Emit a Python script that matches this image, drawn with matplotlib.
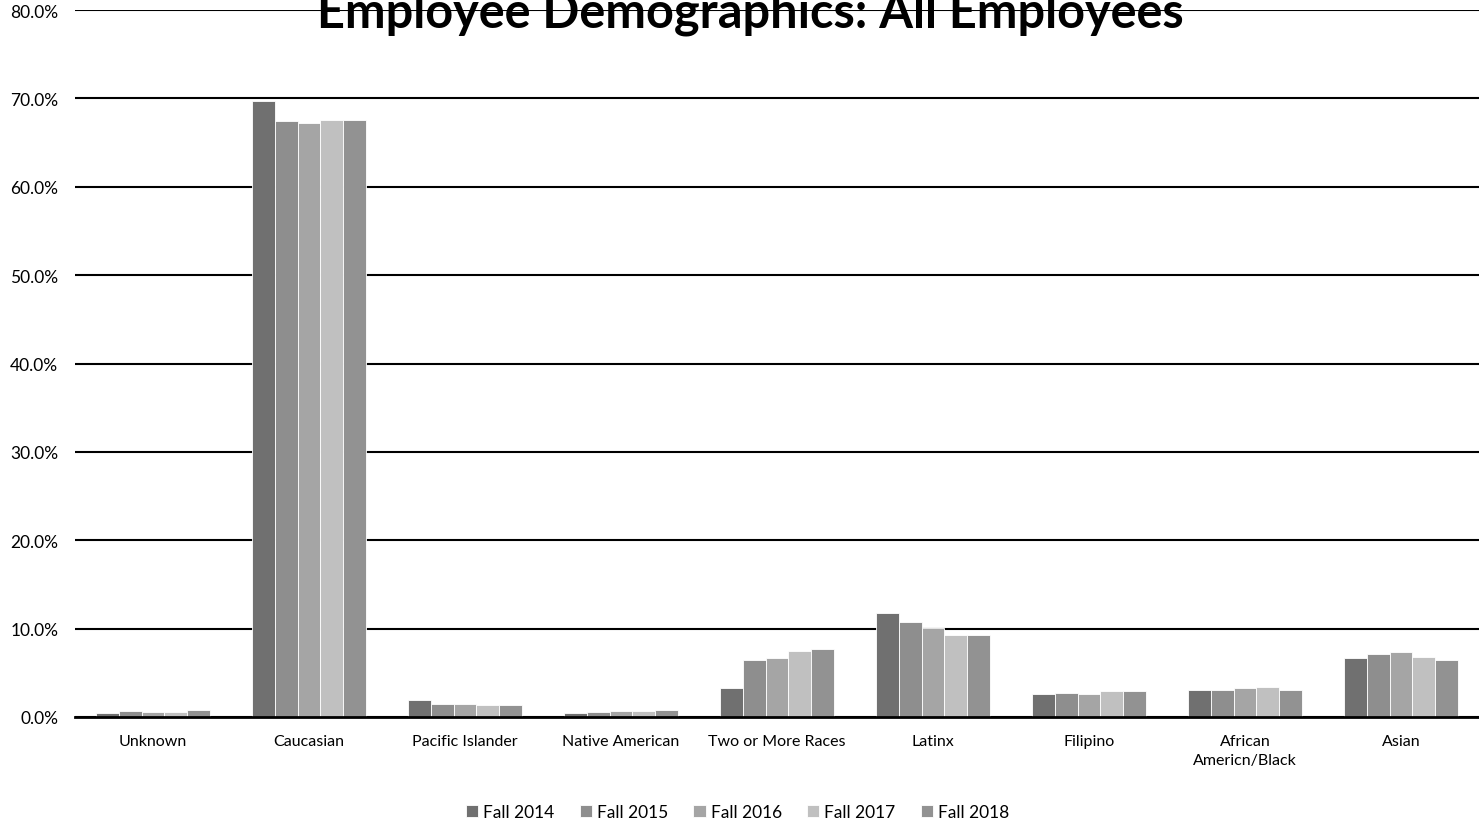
import matplotlib.pyplot as plt
import numpy as np

plt.rcParams['font.family'] = ['Lato', 'DejaVu Sans']

# categories and series (percent of employees)
categories = ["Unknown", "Caucasian", "Pacific Islander", "Native American", "Two or More Races",
              "Latinx", "Filipino", "African\nAmericn/Black", "Asian"]
years = ["Fall 2014", "Fall 2015", "Fall 2016", "Fall 2017", "Fall 2018"]

fall_2014 = [0.5, 69.7, 1.9, 0.5, 3.3, 11.8, 2.6, 3.0, 6.7]
fall_2015 = [0.7, 67.4, 1.5, 0.6, 6.4, 10.8, 2.7, 3.0, 7.1]
fall_2016 = [0.6, 67.2, 1.5, 0.7, 6.7, 10.1, 2.6, 3.3, 7.4]
fall_2017 = [0.6, 67.5, 1.4, 0.7, 7.5, 9.3, 2.9, 3.4, 6.8]
fall_2018 = [0.8, 67.5, 1.4, 0.8, 7.7, 9.3, 2.9, 3.1, 6.5]

series = [fall_2014, fall_2015, fall_2016, fall_2017, fall_2018]
colours = ["#707070", "#8e8e8e", "#a5a5a5", "#c0c0c0", "#929292"]

fig = plt.figure(figsize=(14.79, 8.29), dpi=100)
ax = fig.add_axes([0.0507, 0.1339, 0.9493, 0.8528])

x = np.arange(len(categories))
width = 0.147
for i, (vals, yr) in enumerate(zip(series, years)):
    ax.bar(x + (i - 2) * width, vals, width, color=colours[i], edgecolor="white",
           linewidth=0.6, label=yr, zorder=3)

ax.set_xlim(-0.5, len(categories) - 0.5)
ax.set_ylim(0, 80)
ax.set_yticks(np.arange(0, 81, 10))
ax.set_yticklabels([f"{v:.1f}%" for v in np.arange(0, 81, 10)], fontsize=12.5)
ax.set_xticks(x)
ax.set_xticklabels(categories, fontsize=11.5, linespacing=1.5)
ax.tick_params(axis="both", length=0)
ax.tick_params(axis="x", pad=12)
ax.tick_params(axis="y", pad=12)

ax.grid(axis="y", color="black", linewidth=1.5, zorder=1)
for s in ["top", "right", "left"]:
    ax.spines[s].set_visible(False)
ax.spines["bottom"].set_linewidth(2)
ax.spines["bottom"].set_zorder(4)

fig.text(0.507, 0.984, "Employee Demographics: All Employees", fontsize=35,
         fontweight="bold", ha="center", va="center")

ax.legend(loc="center", bbox_to_anchor=(0.472, -0.135), ncol=5, frameon=False,
          fontsize=12.5, handlelength=0.7, handleheight=0.7, handletextpad=0.3,
          columnspacing=1.45)

fig.savefig("out.png", dpi=100)
